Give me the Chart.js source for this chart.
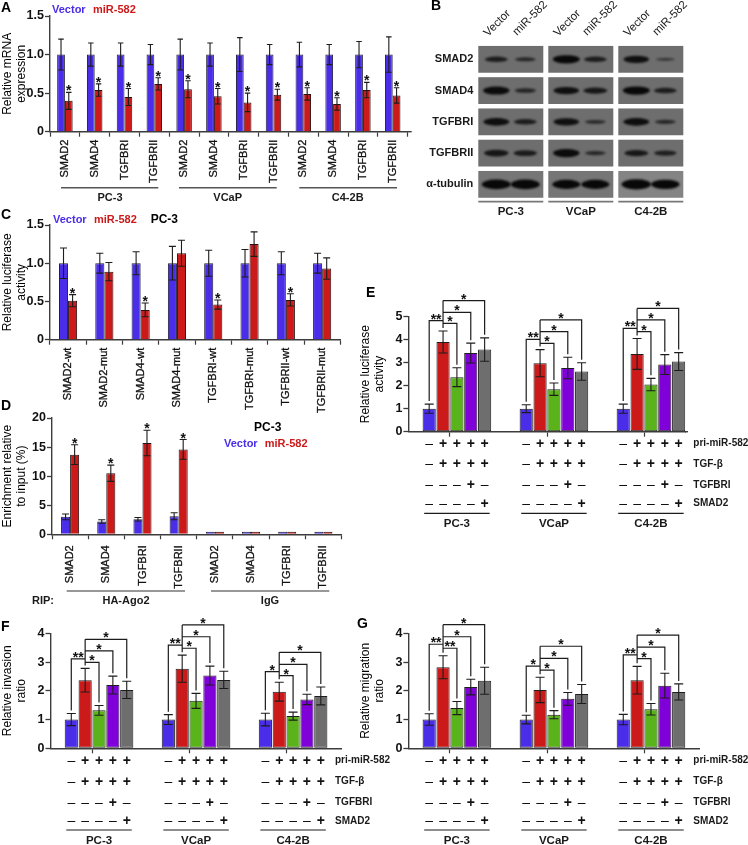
<!DOCTYPE html>
<html>
<head>
<meta charset="utf-8">
<style>
  html, body { margin: 0; background: #fff; }
  #page { position: relative; width: 748px; height: 845px; overflow: hidden; }
  canvas { position: absolute; left: 0; top: 0; filter: blur(0.45px); }
</style>
<script src="https://cdn.jsdelivr.net/npm/chart.js@4"></script>
</head>
<body>
<div id="page"></div>
<script>
// values
const cellLines = ["PC-3", "VCaP", "C4-2B"];
const genes = ["SMAD2", "SMAD4", "TGFBRI", "TGFBRII"];

const aVector = [1, 1, 1, 1, 1, 1, 1, 1, 1, 1, 1, 1];
const aVectorTop = [1.20, 1.15, 1.15, 1.13, 1.20, 1.15, 1.22, 1.13, 1.16, 1.13, 1.17, 1.23];
const aMir = [0.40, 0.54, 0.45, 0.62, 0.55, 0.46, 0.38, 0.48, 0.49, 0.36, 0.54, 0.47];
const aMirTop = [0.51, 0.62, 0.56, 0.70, 0.66, 0.56, 0.50, 0.55, 0.57, 0.44, 0.64, 0.57];

const cLabels = ["SMAD2-wt", "SMAD2-mut", "SMAD4-wt", "SMAD4-mut", "TGFBRI-wt", "TGFBRI-mut", "TGFBRII-wt", "TGFBRII-mut"];
const cVector = [1, 1, 1, 1, 1, 1, 1, 1];
const cVectorTop = [1.20, 1.13, 1.15, 1.22, 1.17, 1.18, 1.15, 1.13];
const cMir = [0.51, 0.89, 0.39, 1.13, 0.46, 1.25, 0.52, 0.93];
const cMirTop = [0.59, 1.01, 0.48, 1.30, 0.52, 1.41, 0.60, 1.07];
const cStars = [0, 2, 4, 6];

const dVector = [3.0, 2.2, 2.6, 3.1, 0.2, 0.35, 0.25, 0.3];
const dVectorTop = [3.5, 2.5, 2.9, 3.7, 0.2, 0.35, 0.25, 0.3];
const dMir = [13.7, 10.5, 15.7, 14.6, 0.25, 0.2, 0.2, 0.25];
const dMirTop = [15.4, 11.9, 17.9, 16.3, 0.25, 0.2, 0.2, 0.25];
const dStars = [0, 1, 2, 3];

const eValues = [[1, 3.9, 2.37, 3.42, 3.57], [1, 2.98, 1.85, 2.77, 2.62], [1, 3.38, 2.05, 2.92, 3.05]];
const eTops = [[1.2, 4.38, 2.78, 3.85, 4.08], [1.17, 3.57, 2.12, 3.24, 3.0], [1.2, 4.05, 2.32, 3.35, 3.44]];
const eLevels = [[4.83, 4.71, 5.19, 5.70], [4.01, 3.84, 4.35, 4.86], [4.49, 4.35, 4.86, 5.36]];
const eStars = [["**", "*", "*", "*"], ["**", "*", "*", "*"], ["**", "*", "*", "*"]];

const fValues = [[1, 2.37, 1.32, 2.2, 2.03], [1, 2.77, 1.65, 2.53, 2.38], [1, 1.97, 1.12, 1.7, 1.82]];
const fTops = [[1.21, 2.78, 1.49, 2.51, 2.33], [1.17, 3.24, 1.91, 2.86, 2.68], [1.22, 2.3, 1.26, 1.88, 2.13]];
const fLevels = [[3.11, 2.99, 3.39, 3.79], [3.59, 3.48, 3.88, 4.29], [2.67, 2.53, 2.92, 3.34]];
const fStars = [["**", "*", "*", "*"], ["**", "*", "*", "*"], ["*", "*", "*", "*"]];

const gValues = [[1, 2.82, 1.4, 2.13, 2.35], [1, 2.03, 1.17, 1.72, 1.89], [1, 2.37, 1.36, 2.18, 1.96]];
const gTops = [[1.2, 3.22, 1.63, 2.4, 2.82], [1.15, 2.47, 1.31, 1.94, 2.22], [1.18, 2.85, 1.56, 2.61, 2.24]];
const gLevels = [[3.62, 3.48, 3.88, 4.30], [2.86, 2.72, 3.13, 3.55], [3.25, 3.12, 3.52, 3.94]];
const gStars = [["**", "**", "*", "*"], ["*", "*", "*", "*"], ["**", "*", "*", "*"]];

const treatmentNames = ["pri-miR-582", "TGF-β", "TGFBRI", "SMAD2"];
const treatmentSigns = ["-++++", "-++++", "---+-", "----+"];

// panel B, band strength by [row][lane], 1 = a heavy band
const blotRows = ["SMAD2", "SMAD4", "TGFBRI", "TGFBRII", "α-tubulin"];
const blotBands = [
  [0.6, 0.4, 1, 0.6, 0.85, 0.2],
  [0.95, 0.45, 0.85, 0.7, 1, 0.6],
  [0.9, 0.6, 0.85, 0.35, 0.9, 0.4],
  [0.75, 0.65, 0.95, 0.4, 0.7, 0.55],
  [1.2, 1.2, 1.1, 1.1, 1.25, 1.15]
];

const BLUE = "#4a2de8", RED = "#cc1a1a", GREEN = "#5ab31a", PURPLE = "#7f00d9", GREY = "#6e6e6e";
const INK = "#1a1a1a";
const LINE = "#3c3c3c";
const FONT = "'Liberation Sans', Arial, sans-serif";
const W = 748, H = 845;

Chart.defaults.font.family = FONT;
Chart.defaults.color = INK;
Chart.defaults.animation = false;

const newCanvas = () => {
  const c = document.createElement("canvas");
  c.width = W;
  c.height = H;
  c.style.width = W + "px";
  c.style.height = H + "px";
  document.getElementById("page").appendChild(c);
  return c;
};

// error bars and significance stars, read from custom dataset fields
const errorBars = {
  id: "errorBars",
  afterDatasetsDraw(chart) {
    const { ctx, scales: { y } } = chart;
    chart.data.datasets.forEach((ds, i) => {
      if (!ds.errTop) return;
      const meta = chart.getDatasetMeta(i);
      ctx.save();
      ctx.strokeStyle = "#1c1c1c";
      ctx.lineWidth = 1.1;
      ds.data.forEach((v, j) => {
        if (v === null || ds.errTop[j] === v) return;
        const x = meta.data[j].x;
        const top = y.getPixelForValue(ds.errTop[j]);
        const low = y.getPixelForValue(2 * v - ds.errTop[j]);
        const cap = ds.capWidth / 2;
        ctx.beginPath();
        ctx.moveTo(x, top); ctx.lineTo(x, low);
        ctx.moveTo(x - cap, top); ctx.lineTo(x + cap, top);
        ctx.moveTo(x - cap, low); ctx.lineTo(x + cap, low);
        ctx.stroke();
      });
      ctx.fillStyle = "#111";
      ctx.font = "bold 14px " + FONT;
      ctx.textAlign = "center";
      (ds.stars || []).forEach(j => {
        ctx.fillText("*", meta.data[j].x, y.getPixelForValue(ds.errTop[j]) - 5 + 8);
      });
      ctx.restore();
    });
  }
};

// free text and rules around a panel
const annotate = (items) => ({
  id: "annotate",
  afterDraw(chart) {
    const { ctx } = chart;
    ctx.save();
    items.forEach(t => {
      if (t.rule) {
        ctx.strokeStyle = t.color || "#333";
        ctx.lineWidth = t.width || 1.2;
        ctx.beginPath();
        ctx.moveTo(t.rule[0], t.rule[1]);
        ctx.lineTo(t.rule[2], t.rule[3]);
        ctx.stroke();
        return;
      }
      ctx.save();
      ctx.translate(t.x, t.y);
      if (t.rot) ctx.rotate(t.rot);
      ctx.font = t.font || "bold 11px " + FONT;
      ctx.fillStyle = t.color || INK;
      ctx.textAlign = t.align || "left";
      ctx.fillText(t.text, 0, 0);
      ctx.restore();
    });
    ctx.restore();
  }
});

const yAxis = (box, yMax, yStep, title, fmt) => ({
  min: 0,
  max: yMax,
  afterFit: s => { s.width = box.left - box.pad; },
  border: { color: LINE, width: 1.4 },
  grid: { drawOnChartArea: false, tickLength: 5, tickColor: LINE, tickWidth: 1.3 },
  ticks: {
    stepSize: yStep,
    padding: 1,
    color: "#111",
    font: { size: 12.5, weight: "bold" },
    callback: fmt || (v => v)
  },
  title: {
    display: true,
    text: title,
    color: "#000",
    padding: 0,
    font: { size: 12 }
  }
});

const layoutFor = box => ({ padding: { left: box.pad, top: box.top, right: W - box.right, bottom: 0 } });

// panels A, C, D: two bars per category with rotated labels
const pairedChart = (box, cfg) => new Chart(newCanvas(), {
  type: "bar",
  data: {
    labels: cfg.labels,
    datasets: [
      { label: "Vector", data: cfg.vector, errTop: cfg.vectorTop, capWidth: cfg.cap, backgroundColor: BLUE, borderColor: "#20203a", borderWidth: 1, minBarLength: 2.5 },
      { label: "miR-582", data: cfg.mir, errTop: cfg.mirTop, capWidth: cfg.cap, stars: cfg.stars, backgroundColor: RED, borderColor: "#2a1010", borderWidth: 1, minBarLength: 2.5 }
    ]
  },
  options: {
    responsive: false,
    events: [],
    layout: layoutFor(box),
    datasets: { bar: { categoryPercentage: cfg.catPct, barPercentage: 1 } },
    plugins: { legend: { display: false }, tooltip: { enabled: false } },
    scales: {
      x: {
        afterFit: s => { s.height = H - box.bottom; },
        border: { color: LINE, width: 1.4 },
        grid: { drawOnChartArea: false, tickLength: 5, tickColor: LINE, tickWidth: 1.2 },
        ticks: {
          autoSkip: false, minRotation: 90, maxRotation: 90, padding: cfg.labelPad,
          color: "#111", font: { size: 11 }, textStrokeColor: "#111", textStrokeWidth: 0.3
        }
      },
      y: yAxis(box, cfg.yMax, cfg.yStep, cfg.title, cfg.fmt)
    }
  },
  plugins: [errorBars, annotate(cfg.notes)]
});

// panels E, F, G: five treatment bars per cell line with a gap between the lines
const spaced = (groups, trailing) => [null, ...groups[0], null, null, ...groups[1], null, null, ...groups[2], ...Array(trailing).fill(null)];
const fiveColors = [BLUE, RED, GREEN, PURPLE, GREY];
const GROUP_START = [1, 8, 15];

const treatmentMarks = (rowY, nameX, underlineY, groupY, levels, stars) => ({
  id: "treatmentMarks",
  afterDatasetsDraw(chart) {
    const { ctx, scales: { x, y } } = chart;
    const tops = chart.data.datasets[0].errTop;
    const barX = i => x.getPixelForValue(i);
    ctx.save();
    ctx.lineWidth = 1.2;
    ctx.strokeStyle = "#1c1c1c";
    GROUP_START.forEach((start, g) => {
      const above = k => y.getPixelForValue(tops[start + k]) - 3;
      const lvl = levels[g].map(v => y.getPixelForValue(v));
      const from = barX(start + 1);
      ctx.beginPath();
      ctx.moveTo(barX(start), above(0));
      ctx.lineTo(barX(start), lvl[0]);
      ctx.lineTo(from, lvl[0]);
      ctx.moveTo(from, above(1));
      ctx.lineTo(from, lvl[3]);
      [2, 3, 4].forEach(k => {
        ctx.moveTo(from, lvl[k - 1]);
        ctx.lineTo(barX(start + k), lvl[k - 1]);
        ctx.lineTo(barX(start + k), above(k));
      });
      ctx.stroke();

      ctx.fillStyle = "#111";
      ctx.font = "bold 14px " + FONT;
      ctx.textAlign = "center";
      ctx.fillText(stars[g][0], (barX(start) + from) / 2, lvl[0] - 5 + 8);
      [2, 3, 4].forEach(k => {
        ctx.fillText(stars[g][k - 1], (from + barX(start + k)) / 2, lvl[k - 1] - 5 + 8);
      });

      // +/- table
      treatmentSigns.forEach((row, r) => {
        [...row].forEach((sign, k) => {
          ctx.font = (sign === "+" ? "bold " : "") + "14px " + FONT;
          ctx.fillText(sign === "+" ? "+" : "–", barX(start + k), rowY[r] + 5);
        });
      });

      // cell line underline and name
      ctx.beginPath();
      ctx.moveTo(barX(start) - 5, underlineY);
      ctx.lineTo(barX(start + 4) + 5, underlineY);
      ctx.stroke();
      ctx.font = "bold 11.5px " + FONT;
      ctx.fillStyle = INK;
      ctx.fillText(cellLines[g], barX(start + 2), groupY);
    });
    ctx.font = "bold 10px " + FONT;
    ctx.textAlign = "left";
    ctx.fillStyle = INK;
    treatmentNames.forEach((name, r) => ctx.fillText(name, nameX, rowY[r] + 3.5));
    ctx.restore();
  }
});

const treatmentChart = (box, cfg) => {
  const data = spaced(cfg.values, cfg.trailing);
  const tops = spaced(cfg.tops, cfg.trailing);
  return new Chart(newCanvas(), {
    type: "bar",
    data: {
      labels: data.map((v, i) => String(i)),
      datasets: [{
        data,
        errTop: tops,
        capWidth: 9,
        backgroundColor: data.map((v, i) => {
          const s = GROUP_START.find(st => i >= st && i < st + 5);
          return s === undefined ? BLUE : fiveColors[i - s];
        }),
        borderColor: "#1e1e1e",
        borderWidth: 1,
        borderSkipped: false
      }]
    },
    options: {
      responsive: false,
      events: [],
      layout: layoutFor(box),
      datasets: { bar: { categoryPercentage: 1, barPercentage: 0.95 } },
      plugins: { legend: { display: false }, tooltip: { enabled: false } },
      scales: {
        x: {
          afterFit: s => { s.height = H - box.bottom; },
          border: { color: LINE, width: 1.4 },
          grid: {
            drawOnChartArea: false,
            tickLength: 5,
            tickWidth: 1.2,
            tickColor: c => GROUP_START.includes(c.index - 2) ? LINE : "rgba(0,0,0,0)"
          },
          ticks: { display: false }
        },
        y: yAxis(box, cfg.yMax, 1, cfg.title)
      }
    },
    plugins: [errorBars, treatmentMarks(cfg.rowY, cfg.nameX, cfg.underlineY, cfg.groupY, cfg.levels, cfg.stars), annotate(cfg.notes)]
  });
};

// panel A
const aBox = { pad: 0, left: 50, top: 16, right: 407.6, bottom: 131.7 };
pairedChart(aBox, {
  labels: [...genes, ...genes, ...genes],
  vector: aVector, vectorTop: aVectorTop, mir: aMir, mirTop: aMirTop,
  stars: aMir.map((v, i) => i),
  cap: 5.5, catPct: 0.52, labelPad: 3, yMax: 1.5, yStep: 0.5,
  title: ["Relative mRNA", "expression"],
  fmt: v => v === 0 ? "0" : v.toFixed(1),
  notes: [
    { text: "A", x: 1, y: 12, font: "bold 14px " + FONT, color: "#000" },
    { text: "Vector", x: 52, y: 13, color: BLUE },
    { text: "miR-582", x: 93, y: 13, color: RED },
    { rule: [407, 131.7, 411.7, 131.7], color: LINE, width: 1.4 },
    { rule: [61, 187.7, 158.3, 187.7], color: "#555", width: 1.4 },
    { rule: [179, 187.7, 276.7, 187.7], color: "#555", width: 1.4 },
    { rule: [299.3, 187.7, 397, 187.7], color: "#555", width: 1.4 },
    { text: "PC-3", x: 110, y: 201, align: "center" },
    { text: "VCaP", x: 227.7, y: 201, align: "center" },
    { text: "C4-2B", x: 347.7, y: 201, align: "center" }
  ]
});

// panel C
const cBox = { pad: 0, left: 49.9, top: 225, right: 340.3, bottom: 339.7 };
pairedChart(cBox, {
  labels: cLabels,
  vector: cVector, vectorTop: cVectorTop, mir: cMir, mirTop: cMirTop, stars: cStars,
  cap: 7, catPct: 0.5, labelPad: 3, yMax: 1.5, yStep: 0.5,
  title: ["Relative luciferase", "activity"],
  fmt: v => v === 0 ? "0" : v.toFixed(1),
  notes: [
    { text: "C", x: 1, y: 219, font: "bold 14px " + FONT, color: "#000" },
    { text: "Vector", x: 53, y: 222.5, color: BLUE },
    { text: "miR-582", x: 94, y: 222.5, color: RED },
    { text: "PC-3", x: 150.7, y: 223, font: "bold 12px " + FONT, color: "#000" }
  ]
});

// panel D
const dBox = { pad: 0, left: 52, top: 418, right: 341.5, bottom: 534.3 };
pairedChart(dBox, {
  labels: [...genes, ...genes],
  vector: dVector, vectorTop: dVectorTop, mir: dMir, mirTop: dMirTop, stars: dStars,
  cap: 7, catPct: 0.5, labelPad: 6, yMax: 20, yStep: 5,
  title: ["Enrichment relative", "to input (%)"],
  notes: [
    { text: "D", x: 1, y: 410, font: "bold 14px " + FONT, color: "#000" },
    { text: "PC-3", x: 254, y: 431, font: "bold 12px " + FONT, color: "#000" },
    { text: "Vector", x: 224, y: 446.7, color: BLUE },
    { text: "miR-582", x: 264.7, y: 446.7, color: RED },
    { rule: [66.7, 591, 185, 591], color: "#333", width: 1.2 },
    { rule: [211, 591, 329.3, 591], color: "#333", width: 1.2 },
    { text: "RIP:", x: 32, y: 604 },
    { text: "HA-Ago2", x: 126, y: 604, align: "center" },
    { text: "IgG", x: 270, y: 604, align: "center" }
  ]
});

// panel E
treatmentChart({ pad: 358, left: 408.4, top: 316.7, right: 685.6, bottom: 431.7 }, {
  values: eValues, tops: eTops, levels: eLevels, stars: eStars, trailing: 0,
  yMax: 5, title: ["Relative luciferase", "activity"],
  rowY: [442.7, 463.3, 484, 502.7], nameX: 693.3, underlineY: 513.3, groupY: 527,
  notes: [
    { text: "E", x: 366, y: 297, font: "bold 14px " + FONT, color: "#000" },
    { rule: [685, 431.7, 688, 431.7], color: LINE, width: 1.4 }
  ]
});

// panel F
treatmentChart({ pad: 0, left: 50.5, top: 633.3, right: 341.6, bottom: 748.3 }, {
  values: fValues, tops: fTops, levels: fLevels, stars: fStars, trailing: 1,
  yMax: 4, title: ["Relative invasion", "ratio"],
  rowY: [759.7, 780.7, 801.7, 820], nameX: 335, underlineY: 830, groupY: 844,
  notes: [{ text: "F", x: 1, y: 631, font: "bold 14px " + FONT, color: "#000" }]
});

// panel G
treatmentChart({ pad: 358, left: 408.4, top: 633.3, right: 699.5, bottom: 748.3 }, {
  values: gValues, tops: gTops, levels: gLevels, stars: gStars, trailing: 1,
  yMax: 4, title: ["Relative migration", "ratio"],
  rowY: [759.7, 780.7, 801.7, 820], nameX: 693.3, underlineY: 830, groupY: 844,
  notes: [{ text: "G", x: 357, y: 628, font: "bold 14px " + FONT, color: "#000" }]
});

// panel B, blots drawn on category scales
const blotMarks = {
  id: "blotMarks",
  beforeDatasetsDraw(chart) {
    const { ctx, scales: { x, y } } = chart;
    ctx.save();
    blotRows.forEach((row, r) => {
      const cy = y.getPixelForValue(r);
      cellLines.forEach((line, g) => {
        const cx = x.getPixelForValue(g);
        const shade = r === 4 ? (g === 2 ? "#848484" : "#767676") : "#6e6e6e";
        ctx.fillStyle = shade;
        ctx.fillRect(cx - 32.5, cy - 13.4, 65, 26.8);
        ctx.save();
        ctx.beginPath();
        ctx.rect(cx - 32.5, cy - 13.4, 65, 26.8);
        ctx.clip();
        ctx.filter = "blur(1.2px)";
        [-14.5, 14.5].forEach((dx, lane) => {
          const s = blotBands[r][g * 2 + lane];
          ctx.fillStyle = `rgba(8,8,8,${0.5 + 0.5 * s})`;
          ctx.beginPath();
          ctx.ellipse(cx + dx, cy, 8.5 + 5 * s, 0.6 + 3.6 * s, 0, 0, Math.PI * 2);
          ctx.fill();
        });
        ctx.restore();
      });
    });
    ctx.restore();
  }
};

const blotBox = { pad: 400, left: 475.8, top: 43.7, right: 685.8, bottom: 200 };
new Chart(newCanvas(), {
  type: "bar",
  data: { labels: cellLines, datasets: [{ data: [], backgroundColor: "transparent" }] },
  options: {
    responsive: false,
    events: [],
    layout: layoutFor(blotBox),
    plugins: { legend: { display: false }, tooltip: { enabled: false } },
    scales: {
      x: {
        afterFit: s => { s.height = H - blotBox.bottom; },
        border: { display: false },
        grid: { display: false, drawTicks: false },
        ticks: { padding: 5, maxRotation: 0, color: INK, font: { size: 11.5, weight: "bold" } }
      },
      y: {
        type: "category",
        labels: blotRows,
        offset: true,
        afterFit: s => { s.width = blotBox.left - blotBox.pad; },
        border: { display: false },
        grid: { display: false, drawTicks: false },
        ticks: { padding: 2.5, color: INK, font: { size: 11, weight: "bold" } }
      }
    }
  },
  plugins: [blotMarks, annotate([
    { text: "B", x: 431, y: 10, font: "bold 14px " + FONT, color: "#000" },
    ...[0, 1, 2].flatMap(g => [
      { text: "Vector", x: 488 + g * 70, y: 37, rot: -Math.PI / 4, font: "11.5px " + FONT },
      { text: "miR-582", x: 517 + g * 70, y: 36, rot: -Math.PI / 4, font: "11.5px " + FONT },
      { rule: [478.3 + g * 70, 201.7, 543.3 + g * 70, 201.7], color: "#777", width: 1.8 }
    ])
  ])]
});
</script>
</body>
</html>
